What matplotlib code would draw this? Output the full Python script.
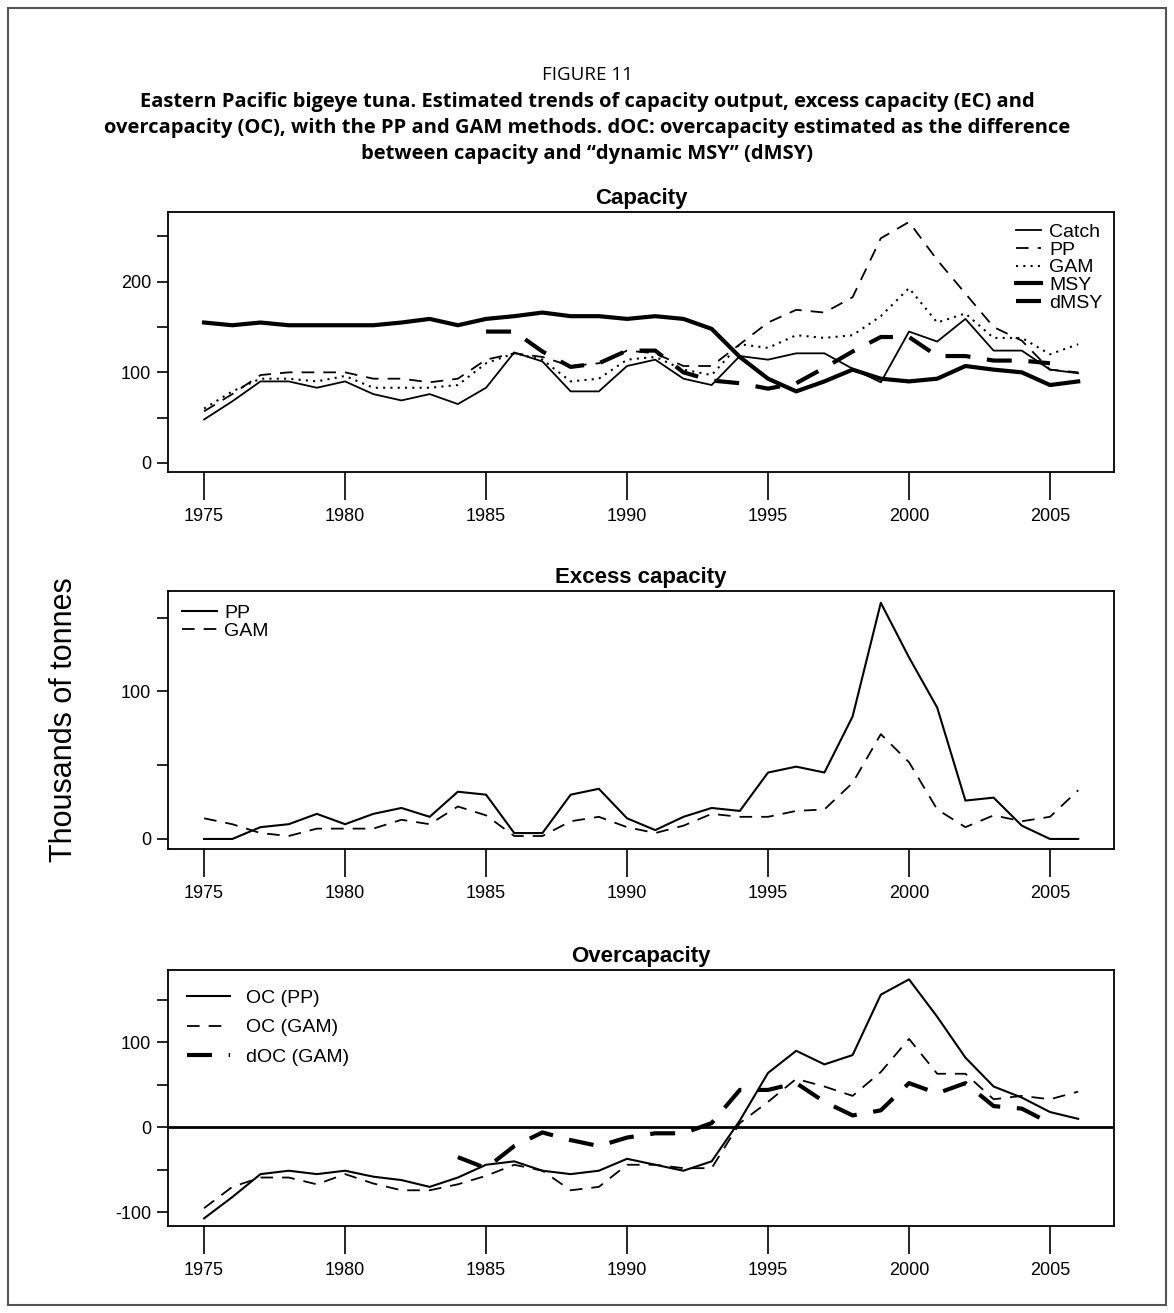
import matplotlib
matplotlib.use('Agg')
import matplotlib.pyplot as plt
import matplotlib.patches as mpatches
import numpy as np

years = np.arange(1975, 2007)

# Capacity panel
catch = [48, 68, 90, 90, 83, 90, 76, 69, 76, 65, 83, 122, 112, 79, 79, 107,
         114, 93, 86, 118, 114, 121, 121, 104, 89, 145, 134, 159, 124, 124, 103, 99]
cap_pp = [57, 76, 97, 100, 100, 100, 93, 93, 89, 93, 114, 121, 117, 107, 110, 124,
          121, 107, 107, 131, 155, 169, 166, 183, 248, 266, 224, 187, 150, 135, 103, 100]
cap_gam = [60, 79, 93, 93, 90, 96, 83, 83, 83, 86, 110, 121, 114, 90, 93, 114,
           117, 103, 97, 131, 127, 141, 138, 141, 162, 193, 155, 165, 138, 138, 120, 131]
msy = [155, 152, 155, 152, 152, 152, 152, 155, 159, 152, 159, 162, 166, 162, 162, 159,
       162, 159, 148, 117, 93, 79, 90, 103, 93, 90, 93, 107, 103, 100, 86, 90]
dmsy_years = np.arange(1985, 2006)
dmsy = [145, 145, 123, 106, 110, 124, 124, 100, 91, 88, 82, 88, 105, 123, 139, 139,
        118, 118, 113, 113, 110]

# Excess capacity panel
ec_pp = [0, 0, 8, 10, 17, 10, 17, 21, 15, 32, 30, 4, 4, 30, 34, 14,
         6, 15, 21, 19, 45, 49, 45, 83, 160, 123, 89, 26, 28, 9, 0, 0]
ec_gam = [14, 10, 4, 2, 7, 7, 7, 13, 10, 22, 16, 2, 2, 12, 15, 8,
          4, 9, 17, 15, 15, 19, 20, 38, 71, 52, 20, 8, 16, 12, 15, 33]

# Overcapacity panel
oc_pp = [-107, -82, -55, -51, -55, -51, -58, -62, -70, -59, -44, -40, -51, -55, -51, -37,
         -44, -51, -40, 8, 64, 90, 74, 85, 156, 174, 130, 82, 48, 35, 18, 10]
oc_gam = [-95, -70, -59, -59, -67, -55, -66, -74, -74, -67, -57, -44, -51, -74, -70, -44,
          -44, -48, -48, 5, 30, 57, 48, 37, 65, 104, 63, 63, 33, 37, 33, 42]
doc_years = np.arange(1984, 2006)
doc_gam = [-35, -48, -22, -6, -15, -22, -12, -7, -7, 5, 44, 44, 52, 30, 14, 20,
           52, 40, 52, 25, 22, 5]

plt.rcParams['font.family'] = ['Liberation Sans', 'DejaVu Sans']

fig = plt.figure(figsize=(11.74, 13.13), dpi=100)
W, H = 1174, 1313

# outer frame
fig.patches.append(mpatches.Rectangle((8 / W, 8 / H), 1 - 16 / W, 1 - 16 / H,
                                      transform=fig.transFigure, fill=False,
                                      edgecolor='#555555', linewidth=1.5))

fig.text(0.5, 1 - 75 / H, 'FIGURE 11', ha='center', va='center',
         fontsize=13.5, family='Open Sans')
fig.text(0.5, 1 - 128 / H,
         'Eastern Pacific bigeye tuna. Estimated trends of capacity output, excess capacity (EC) and\n'
         'overcapacity (OC), with the PP and GAM methods. dOC: overcapacity estimated as the difference\n'
         'between capacity and \u201cdynamic MSY\u201d (dMSY)',
         ha='center', va='center', fontsize=14.5, fontweight='bold',
         family='Open Sans', linespacing=1.4)

left, width = 168 / W, (1114 - 168) / W
boxes = [(212, 472), (591, 849), (970, 1226)]
axes = []
for top, bot in boxes:
    ax = fig.add_axes([left, 1 - bot / H, width, (bot - top) / H])
    axes.append(ax)


def style(ax, yticks, ylabels, ylim, title):
    ax.set_xlim(1973.72, 2007.27)
    ax.set_ylim(*ylim)
    ax.set_xticks(np.arange(1975, 2006, 5))
    ax.set_yticks(yticks)
    ax.set_yticklabels(ylabels)
    ax.tick_params(axis='x', direction='out', length=20, width=1.2, labelsize=13, pad=6)
    ax.tick_params(axis='y', direction='out', length=8, width=1.2, labelsize=13, pad=4)
    for s in ax.spines.values():
        s.set_linewidth(1.3)
    ax.set_title(title, fontsize=16, fontweight='bold', pad=6)


ax = axes[0]
ax.plot(years, catch, color='black', lw=1.3, label='Catch')
ax.plot(years, cap_pp, color='black', lw=1.3, ls=(0, (7, 5)), label='PP')
ax.plot(years, cap_gam, color='black', lw=1.5, ls=(0, (1, 2.5)), label='GAM')
ax.plot(years, msy, color='black', lw=3, label='MSY')
ax.plot(dmsy_years, dmsy, color='black', lw=3, ls=(0, (6, 4)), label='dMSY')
style(ax, [0, 50, 100, 150, 200, 250], ['0', '', '100', '', '200', ''], (-10, 277), 'Capacity')
ax.legend(loc='upper right', frameon=False, fontsize=14, handlelength=1.3,
          handletextpad=0.4, labelspacing=0.0, borderaxespad=0.2)

ax = axes[1]
ax.plot(years, ec_pp, color='black', lw=1.5, label='PP')
ax.plot(years, ec_gam, color='black', lw=1.3, ls=(0, (7, 5)), label='GAM')
style(ax, [0, 50, 100, 150], ['0', '', '100', ''], (-6.8, 168), 'Excess capacity')
ax.legend(loc='upper left', frameon=False, fontsize=14, handlelength=1.8,
          handletextpad=0.4, labelspacing=0.0, borderaxespad=0.3)
ax.set_ylabel('Thousands of tonnes', fontsize=22, labelpad=30)

ax = axes[2]
ax.axhline(0, color='black', lw=2)
ax.plot(years, oc_pp, color='black', lw=1.5, label='OC (PP)')
ax.plot(years, oc_gam, color='black', lw=1.3, ls=(0, (7, 5)), label='OC (GAM)')
ax.plot(doc_years, doc_gam, color='black', lw=3, ls=(0, (6, 4)), label='dOC (GAM)')
style(ax, [-100, -50, 0, 50, 100, 150], ['-100', '', '0', '', '100', ''], (-116, 185), 'Overcapacity')
ax.legend(loc='upper left', frameon=False, fontsize=14, handlelength=2.2,
          handletextpad=0.8, labelspacing=0.6, borderaxespad=0.6)

fig.savefig('out.png', dpi=100)
